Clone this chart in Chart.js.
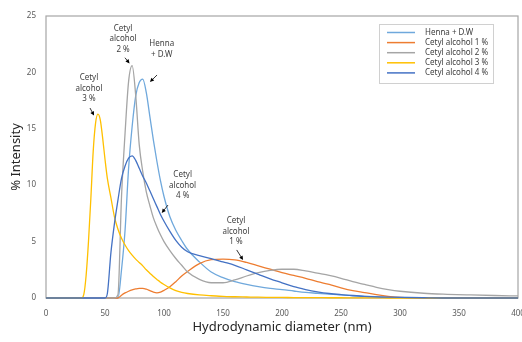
<!DOCTYPE html>
<html><head><meta charset="utf-8">
<script src="https://cdn.jsdelivr.net/npm/chart.js@4.4.1/dist/chart.umd.min.js"></script>
<style>html,body{margin:0;padding:0;background:#fff;}canvas{display:block;}</style>
</head><body>
<canvas id="c" width="522" height="342"></canvas>
<script>
// Hydrodynamic diameter (nm) sample points
const diameters = [0,30,32,34,36,38,40,42,44,46,48,50,52,55,58,61,64,67,70,73,76,79,82,85,88,91,94,97,100,105,110,115,120,130,140,150,160,170,180,190,200,210,220,230,240,250,260,270,280,290,300,320,340,360,380,400];
// % Intensity per series
const hennaDW = [0,0,0,0,0,0,0,0,0,0,0,0, 0,0,0,0,2.5,6.0,11.5,15.2,17.9,19.1, 19.4,18.2,16.1,14.0,12.1,10.4,9.0, 7.2,6.0,5.1,4.3,3.2,2.3,1.8,1.45,1.2,1.0,0.85,0.75, 0.62,0.5,0.42,0.34,0.27,0.2,0.15,0.11,0.08,0.05, 0.02,0,0,0,0];
const cetyl1 = [0,0,0,0,0,0,0,0,0,0,0,0, 0,0,0,0,0.25,0.45,0.6,0.72,0.8,0.85, 0.85,0.78,0.65,0.52,0.46,0.52,0.68, 1.0,1.45,1.95,2.35,3.05,3.4,3.45,3.38,3.15,2.85,2.55,2.25, 2.0,1.75,1.45,1.2,0.9,0.65,0.48,0.3,0.15,0.05, 0,0,0,0,0];
const cetyl2 = [0,0,0,0,0,0,0,0,0,0,0,0, 0,0,0,0.3,9.0,14.6,19.2,20.6,18.0,13.6, 11.2,9.4,8.2,7.1,6.3,5.6,5.0, 4.2,3.5,2.9,2.3,1.65,1.35,1.35,1.6,1.95,2.25,2.45,2.55, 2.55,2.4,2.2,2.0,1.75,1.45,1.2,0.95,0.75,0.6, 0.42,0.33,0.27,0.22,0.18];
const cetyl3 = [0,0,0.3,2.0,5.0,8.8,13.0,15.5,16.3,15.8,14.2,12.3, 10.6,8.9,7.2,6.1,5.3,4.7,4.2,3.8,3.45,3.15, 2.85,2.5,2.2,1.9,1.65,1.4,1.2, 0.9,0.65,0.5,0.4,0.27,0.2,0.15,0.11,0.09,0.07,0.06,0.05, 0.04,0.03,0.03,0.02,0.02,0.01,0.01,0.01,0,0, 0,0,0,0,0];
const cetyl4 = [0,0,0,0,0,0,0,0,0,0,0,0, 0.4,4.0,6.6,8.7,10.6,11.7,12.4,12.6,12.2,11.5, 10.8,10.2,9.5,8.8,8.1,7.4,6.8, 5.9,5.1,4.5,4.1,3.75,3.5,3.2,2.9,2.5,2.1,1.7,1.35, 1.0,0.75,0.55,0.4,0.3,0.22,0.15,0.1,0.07,0.05, 0.02,0,0,0,0];

const seriesNames = ['Henna + D.W','Cetyl alcohol 1 %','Cetyl alcohol 2 %','Cetyl alcohol 3 %','Cetyl alcohol 4 %'];
const seriesValues = [hennaDW, cetyl1, cetyl2, cetyl3, cetyl4];
const seriesColors = ['#6FA8DC','#ED7D31','#A5A5A5','#FFC000','#4472C4'];

const xTicks = [0,50,100,150,200,250,300,350,400];
const yTicks = [0,5,10,15,20,25];

// callouts
const noteTexts = [['Cetyl','alcohol','2 %'],['Henna','+ D.W'],['Cetyl','alcohol','3 %'],['Cetyl','alcohol','4 %'],['Cetyl','alcohol','1 %']];
const noteAnchors = [[65.3,23.9],[98.1,22.5],[36.4,19.5],[115.8,10.9],[161,6.83]];
const arrowFrom = [[66.9,21.3],[94.1,19.77],[37.3,16.84],[103.4,8.24],[161.6,4.26]];
const arrowTo = [[70.8,20.8],[88.1,19.15],[40.7,16.18],[98.1,7.54],[167,3.37]];

const FONT = "'Noto Sans', sans-serif";

const datasets = seriesNames.map((n,i)=>({
  label:n,
  data: diameters.map((d,k)=>({x:d,y:seriesValues[i][k]})),
  borderColor: seriesColors[i],
  backgroundColor: seriesColors[i],
  borderWidth:1.3,
  pointRadius:0,
  fill:false,
  cubicInterpolationMode:'monotone',
  order: seriesNames.length - i,
  clip: 3
}));

const framePlugin = {
  id:'frame',
  beforeDatasetsDraw(chart){
    const {ctx, chartArea:a} = chart;
    ctx.save();
    ctx.strokeStyle = '#A6A6A6';
    ctx.lineWidth = 1.2;
    ctx.strokeRect(a.left, a.top, a.right-a.left, a.bottom-a.top);
    ctx.restore();
  }
};

const notesPlugin = {
  id:'notes',
  afterDatasetsDraw(chart){
    const {ctx, scales:{x,y}} = chart;
    ctx.save();
    ctx.font = '8px ' + FONT;
    ctx.textAlign = 'center';
    ctx.textBaseline = 'middle';
    noteTexts.forEach((lines,i)=>{
      ctx.fillStyle = '#404040';
      const cx = x.getPixelForValue(noteAnchors[i][0]);
      const cy = y.getPixelForValue(noteAnchors[i][1]);
      lines.forEach((t,j)=>ctx.fillText(t, cx, cy + j*10.5));
      const fx = x.getPixelForValue(arrowFrom[i][0]), fy = y.getPixelForValue(arrowFrom[i][1]);
      const tx = x.getPixelForValue(arrowTo[i][0]), ty = y.getPixelForValue(arrowTo[i][1]);
      const ang = Math.atan2(ty-fy, tx-fx);
      ctx.strokeStyle = '#000';
      ctx.lineWidth = 0.8;
      ctx.beginPath(); ctx.moveTo(fx,fy); ctx.lineTo(tx - 3*Math.cos(ang), ty - 3*Math.sin(ang)); ctx.stroke();
      ctx.fillStyle = '#000';
      ctx.beginPath();
      ctx.moveTo(tx,ty);
      ctx.lineTo(tx - 4*Math.cos(ang) + 2*Math.sin(ang), ty - 4*Math.sin(ang) - 2*Math.cos(ang));
      ctx.lineTo(tx - 4*Math.cos(ang) - 2*Math.sin(ang), ty - 4*Math.sin(ang) + 2*Math.cos(ang));
      ctx.closePath(); ctx.fill();
    });
    ctx.restore();
  }
};

const legendPlugin = {
  id:'boxLegend',
  afterDraw(chart){
    const {ctx, chartArea:a} = chart;
    const left = a.right - 139, top = a.top + 8, w = 114, h = 59;
    ctx.save();
    ctx.fillStyle = '#fff';
    ctx.fillRect(left, top, w, h);
    ctx.strokeStyle = '#D0D0D0';
    ctx.lineWidth = 1;
    ctx.strokeRect(left+0.5, top+0.5, w, h);
    ctx.font = '8px ' + FONT;
    ctx.textAlign = 'left';
    ctx.textBaseline = 'middle';
    seriesNames.forEach((n,i)=>{
      const yy = top + 8.5 + i*10.1;
      ctx.strokeStyle = seriesColors[i];
      ctx.lineWidth = 1.5;
      ctx.beginPath(); ctx.moveTo(left+8, yy); ctx.lineTo(left+36, yy); ctx.stroke();
      ctx.fillStyle = '#404040';
      ctx.fillText(n, left+46, yy);
    });
    ctx.restore();
  }
};

new Chart(document.getElementById('c'), {
  type:'line',
  data:{datasets},
  options:{
    responsive:false, animation:false, devicePixelRatio:1,
    layout:{padding:{top:16,right:4,left:8,bottom:7}},
    plugins:{legend:{display:false}, tooltip:{enabled:false}},
    scales:{
      x:{type:'linear', min:0, max:400,
        afterBuildTicks(s){ s.ticks = xTicks.map(v=>({value:v})); },
        ticks:{color:'#595959', font:{size:8, family:FONT}, padding:11, maxRotation:0},
        grid:{display:false, drawTicks:false}, border:{display:false},
        title:{display:true, text:'Hydrodynamic diameter (nm)', color:'#262626', font:{size:13, family:FONT}, padding:0},
        afterFit(s){ s.height = 37; s.paddingRight = 0; s.paddingLeft = 0; }
      },
      y:{min:0, max:25,
        afterBuildTicks(s){ s.ticks = yTicks.map(v=>({value:v})); },
        ticks:{color:'#595959', font:{size:8, family:FONT}, padding:10},
        grid:{display:false, drawTicks:false}, border:{display:false},
        title:{display:true, text:'% Intensity', color:'#262626', font:{size:13, family:FONT}, padding:0},
        afterFit(s){ s.width = 38; s.paddingTop = 0; s.paddingBottom = 0; }
      }
    }
  },
  plugins:[framePlugin, notesPlugin, legendPlugin]
});
</script>
</body></html>
